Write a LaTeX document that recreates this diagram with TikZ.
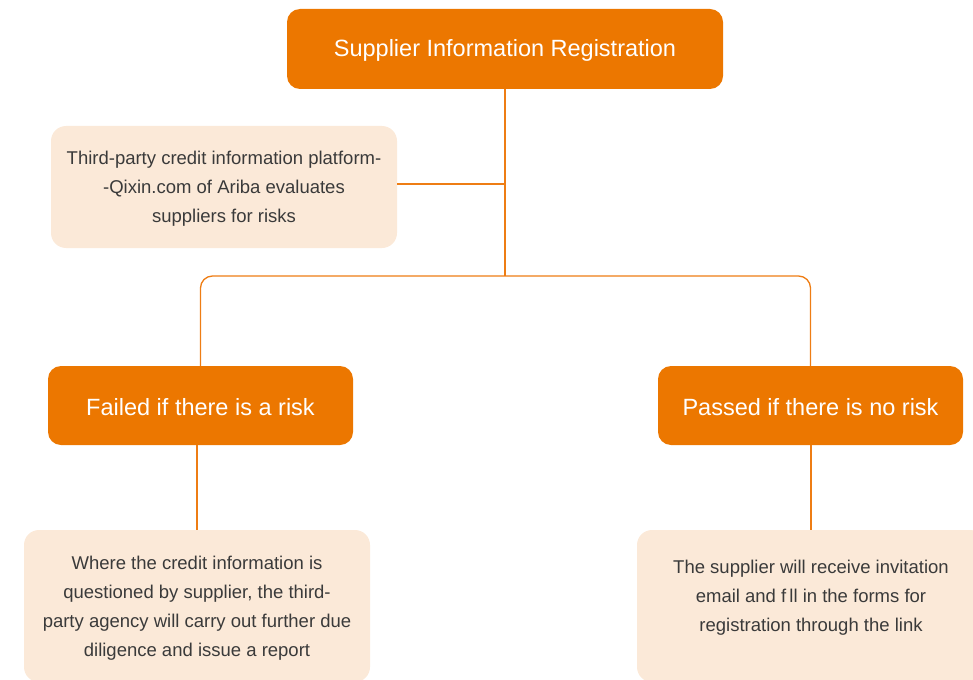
\documentclass[tikz,border=0pt]{standalone}
\usepackage{fontspec}
\setmainfont{Liberation Sans}
\definecolor{orng}{HTML}{EC7700}
\definecolor{pale}{HTML}{FBE9D8}
\definecolor{lineor}{HTML}{EE7D14}
\definecolor{txt}{HTML}{3A3A3A}
\newcommand{\mytopstrut}{\rule{0pt}{17.5pt}}
\begin{document}
\begin{tikzpicture}[x=1pt,y=-1pt,
 headbox/.style={fill=orng, rounded corners=13pt, text=white, font=\fontsize{23.5}{28}\selectfont, inner sep=0pt, execute at begin node={\rule{0pt}{20.5pt}}},
 notebox/.style={fill=pale, rounded corners=15pt, text=txt, font=\fontsize{18.5}{29}\selectfont, align=center, inner sep=0pt},
 notetext/.style={text=txt, font=\fontsize{18.5}{29}\selectfont, align=center, inner sep=0pt},
 link/.style={draw=lineor, line width=1.3pt}]
\useasboundingbox (0,0) rectangle (973,679);
\begin{scope}
\clip (0,0) rectangle (973,679);
\node[headbox, minimum width=436pt, minimum height=80pt] (top) at (505,49) {Supplier Information Registration};
\node[notebox, minimum width=346pt, minimum height=122pt] (side) at (224,187) {\mytopstrut Third-party credit information platform-\\-Qixin.com of Ariba evaluates\\suppliers for risks};
\node[headbox, minimum width=305pt, minimum height=79pt] (left) at (200.5,405.5) {Failed if there is a risk};
\node[headbox, minimum width=305pt, minimum height=79pt] (right) at (810.5,405.5) {Passed if there is no risk};
\node[notebox, minimum width=346pt, minimum height=152pt] (bl) at (197,606) {\mytopstrut Where the credit information is\\questioned by supplier, the third-\\party agency will carry out further due\\diligence and issue a report};
\node[notebox, minimum width=348pt, minimum height=152pt] (br) at (811,606) {};
\node[notetext] (brtext) at (811,598) {The supplier will receive invitation\\email and f\,ll in the forms for\\registration through the link};
\end{scope}
\coordinate (junc) at (505,276);
\coordinate (sidej) at (505,184);
\draw[link] (top.south) -- (junc);
\draw[link] (side.east |- sidej) -- (sidej);
\draw[link, rounded corners=12pt] (left.north) -- (left.north |- junc) -- (right.north |- junc) -- (right.north);
\draw[link] (bl.north |- left.south) -- (bl.north);
\draw[link] (br.north |- right.south) -- (br.north);
\end{tikzpicture}
\end{document}
